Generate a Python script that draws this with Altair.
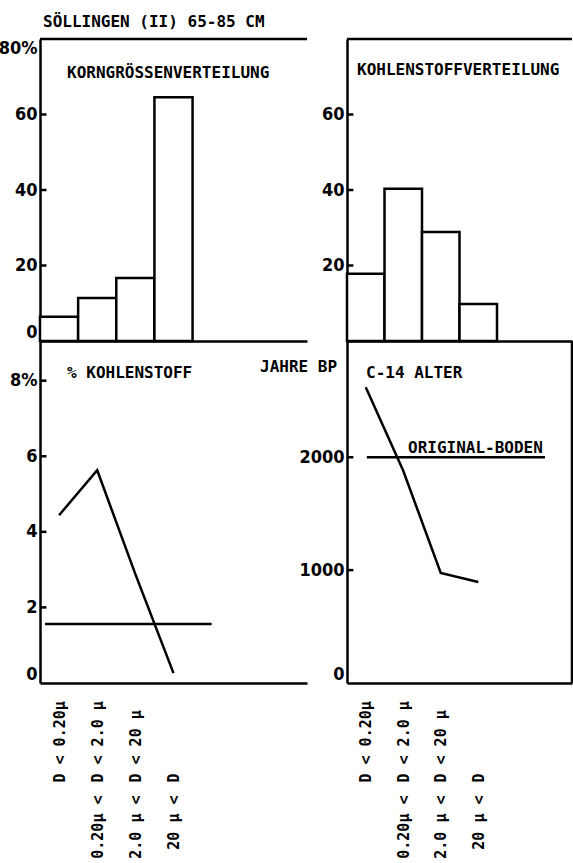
import altair as alt
import pandas as pd

# ---- data -------------------------------------------------------------
classes = ["D < 0.20µ", "0.20µ < D < 2.0 µ", "2.0 µ < D < 20 µ", "20 µ < D"]
grain_size_pct = [6.4, 11.4, 16.7, 64.6]           # Korngrössenverteilung
carbon_distribution_pct = [17.8, 40.3, 28.9, 9.8]   # Kohlenstoffverteilung
carbon_content_pct = [4.44, 5.63, 2.88, 0.26]       # % Kohlenstoff
c14_age_bp = [2620, 1880, 975, 895]                 # C-14 Alter
bulk_soil_carbon_pct = 1.56
bulk_soil_carbon_span = [0.13, 4.5]                 # in class slots
original_soil_age_bp = 2000
original_soil_span = [0.53, 5.28]                   # in class slots

pct_ticks = [0, 20, 40, 60, 80]
carbon_ticks = [0, 2, 4, 6, 8]
age_ticks = [0, 1000, 2000]

# ---- layout -----------------------------------------------------------
W, H = 573, 863
LEFT_X = [40, 307]
RIGHT_X = [347, 572]
TOP_Y = [341, 39]
BOTTOM_Y = [683, 341]
LEFT_SLOTS, RIGHT_SLOTS = 7, 6
PCT_DOMAIN = [0, 80]
CARBON_DOMAIN = [0, 9.05]
AGE_DOMAIN = [0, 3030]
TICK_LEN = 0.17        # inward tick length, in class slots

MONO = "DejaVu Sans Mono"
NUM_FONT = "Liberation Sans Narrow, DejaVu Sans Condensed, Liberation Sans, sans-serif"
LINE_W = 2.5

n = len(classes)
slots = pd.DataFrame({
    "cls": classes,
    "x0": list(range(n)),
    "x1": [i + 1 for i in range(n)],
    "xc": [i + 0.5 for i in range(n)],
    "base": [0] * n,
    "grain": grain_size_pct,
    "cshare": carbon_distribution_pct,
    "carbon": carbon_content_pct,
    "age": c14_age_bp,
})

# label halves: the part from "D" onwards reads upward from a common line,
# the part before "D" hangs below it
after_d = ["D" + c.split("D", 1)[1] for c in classes]
before_d = [c.split("D", 1)[0].strip() for c in classes]


def js_list(items):
    return "[" + ",".join("'" + s + "'" for s in items) + "]"


def xscale(side):
    return alt.Scale(domain=[0, LEFT_SLOTS if side == "L" else RIGHT_SLOTS],
                     range=LEFT_X if side == "L" else RIGHT_X,
                     nice=False, zero=False)


def yscale(domain, rng):
    return alt.Scale(domain=domain, range=rng, nice=False, zero=False)


def value_axis(x_px, values, expr=None):
    kw = dict(orient="left", offset=-x_px, values=values, ticks=False, tickSize=0,
              labelPadding=3, domain=True, domainColor="black", domainWidth=LINE_W,
              labelFont=NUM_FONT, labelFontSize=18, labelFontWeight="bold",
              labelColor="black", labelFlush=True, grid=False, title=None,
              format="d")
    if expr:
        kw["labelExpr"] = expr
    return alt.Axis(**kw)


def base_axis(y_px):
    return alt.Axis(orient="bottom", offset=y_px - H, labels=False, ticks=False,
                    tickSize=0, domain=True, domainColor="black",
                    domainWidth=LINE_W, grid=False, title=None)


def class_axis(texts, pad, align, domain):
    return alt.Axis(orient="bottom", offset=BOTTOM_Y[0] - H,
                    values=[i + 0.5 for i in range(n)],
                    labelExpr=js_list(texts) + "[floor(datum.value)]",
                    labelAngle=270, labelAlign=align, labelBaseline="middle",
                    labelPadding=pad, labelFont=MONO, labelFontSize=15,
                    labelFontWeight="bold", labelColor="black",
                    labelFlush=False, labelOverlap=False, labelBound=False,
                    ticks=False, tickSize=0, domain=domain, domainColor="black",
                    domainWidth=LINE_W, grid=False, title=None)


def inner_ticks(side, values, domain, rng):
    """Short tick marks drawn inside the plot, off the value axis."""
    df = pd.DataFrame({"v": values, "a": [0] * len(values), "b": [TICK_LEN] * len(values)})
    return alt.Chart(df).mark_rule(color="black", strokeWidth=LINE_W).encode(
        x=alt.X("a:Q", scale=xscale(side), axis=None),
        x2="b",
        y=alt.Y("v:Q", scale=yscale(domain, rng), axis=None),
    )


bar_mark = dict(fill="white", stroke="black", strokeWidth=LINE_W)

# ---- top left: Korngrössenverteilung ---------------------------------
tl_bars = alt.Chart(slots).mark_bar(**bar_mark).encode(
    x=alt.X("x0:Q", scale=xscale("L"), axis=base_axis(TOP_Y[0])),
    x2="x1",
    y=alt.Y("grain:Q", scale=yscale(PCT_DOMAIN, TOP_Y),
            axis=value_axis(LEFT_X[0], pct_ticks,
                            "datum.value == 80 ? '80%' : datum.label")),
    y2="base",
)
tl_frame = alt.Chart(pd.DataFrame({"a": [0], "b": [LEFT_SLOTS], "v": [PCT_DOMAIN[1]]})).mark_rule(
    color="black", strokeWidth=LINE_W).encode(
    x=alt.X("a:Q", scale=xscale("L"), axis=None),
    x2="b",
    y=alt.Y("v:Q", scale=yscale(PCT_DOMAIN, TOP_Y), axis=None),
)
tl_ticks = inner_ticks("L", pct_ticks[1:-1], PCT_DOMAIN, TOP_Y)

# ---- top right: Kohlenstoffverteilung --------------------------------
tr_bars = alt.Chart(slots).mark_bar(**bar_mark).encode(
    x=alt.X("x0:Q", scale=xscale("R"), axis=base_axis(TOP_Y[0])),
    x2="x1",
    y=alt.Y("cshare:Q", scale=yscale(PCT_DOMAIN, TOP_Y),
            axis=value_axis(RIGHT_X[0], pct_ticks[1:-1])),
    y2="base",
)
tr_frame = alt.Chart(pd.DataFrame({"a": [0], "b": [RIGHT_SLOTS], "v": [PCT_DOMAIN[1]]})).mark_rule(
    color="black", strokeWidth=LINE_W).encode(
    x=alt.X("a:Q", scale=xscale("R"), axis=None),
    x2="b",
    y=alt.Y("v:Q", scale=yscale(PCT_DOMAIN, TOP_Y), axis=None),
)
tr_ticks = inner_ticks("R", pct_ticks[1:-1], PCT_DOMAIN, TOP_Y)

# ---- bottom left: % Kohlenstoff --------------------------------------
bl_line = alt.Chart(slots).mark_line(color="black", strokeWidth=LINE_W).encode(
    x=alt.X("xc:Q", scale=xscale("L"), axis=class_axis(after_d, 99, "left", True)),
    y=alt.Y("carbon:Q", scale=yscale(CARBON_DOMAIN, BOTTOM_Y),
            axis=value_axis(LEFT_X[0], carbon_ticks,
                            "datum.value == 8 ? '8%' : datum.label")),
    order="x0:Q",
)
bl_ref = alt.Chart(pd.DataFrame({"a": [bulk_soil_carbon_span[0]], "b": [bulk_soil_carbon_span[1]],
                                 "v": [bulk_soil_carbon_pct]})).mark_rule(
    color="black", strokeWidth=LINE_W).encode(
    x=alt.X("a:Q", scale=xscale("L"), axis=class_axis(before_d, 112, "right", False)),
    x2="b",
    y=alt.Y("v:Q", scale=yscale(CARBON_DOMAIN, BOTTOM_Y), axis=None),
)
bl_ticks = inner_ticks("L", carbon_ticks[1:], CARBON_DOMAIN, BOTTOM_Y)

# ---- bottom right: C-14 Alter ----------------------------------------
br_line = alt.Chart(slots).mark_line(color="black", strokeWidth=LINE_W).encode(
    x=alt.X("xc:Q", scale=xscale("R"), axis=class_axis(after_d, 99, "left", True)),
    y=alt.Y("age:Q", scale=yscale(AGE_DOMAIN, BOTTOM_Y),
            axis=value_axis(RIGHT_X[0], age_ticks)),
    order="x0:Q",
)
br_ref = alt.Chart(pd.DataFrame({"a": [original_soil_span[0]], "b": [original_soil_span[1]],
                                 "v": [original_soil_age_bp]})).mark_rule(
    color="black", strokeWidth=LINE_W).encode(
    x=alt.X("a:Q", scale=xscale("R"), axis=class_axis(before_d, 112, "right", False)),
    x2="b",
    y=alt.Y("v:Q", scale=yscale(AGE_DOMAIN, BOTTOM_Y), axis=None),
)
br_edge = alt.Chart(pd.DataFrame({"a": [RIGHT_SLOTS], "lo": [AGE_DOMAIN[0]], "hi": [AGE_DOMAIN[1]]})).mark_rule(
    color="black", strokeWidth=LINE_W).encode(
    x=alt.X("a:Q", scale=xscale("R"), axis=None),
    y=alt.Y("lo:Q", scale=yscale(AGE_DOMAIN, BOTTOM_Y), axis=None),
    y2="hi",
)
br_ticks = inner_ticks("R", age_ticks[1:], AGE_DOMAIN, BOTTOM_Y)

# ---- captions --------------------------------------------------------
captions = [
    ("SÖLLINGEN (II) 65-85 CM", 43, 27),
    ("KORNGRÖSSENVERTEILUNG", 67, 78),
    ("KOHLENSTOFFVERTEILUNG", 357, 75),
    ("% KOHLENSTOFF", 67, 378),
    ("JAHRE BP", 260, 372),
    ("C-14 ALTER", 366, 378),
    ("ORIGINAL-BODEN", 408, 453),
]
caption_layers = [
    alt.Chart(pd.DataFrame({"t": [t]})).mark_text(
        align="left", baseline="alphabetic", font=MONO, fontSize=16,
        fontWeight="bold", color="black").encode(
        x=alt.value(px), y=alt.value(py), text="t:N")
    for t, px, py in captions
]

chart = alt.layer(
    tl_bars, tl_frame, tl_ticks, tr_bars, tr_frame, tr_ticks,
    bl_line, bl_ref, bl_ticks, br_line, br_ref, br_edge, br_ticks,
    *caption_layers,
).resolve_scale(
    x="independent", y="independent"
).resolve_axis(
    x="independent", y="independent"
).properties(
    width=W, height=H, padding=0, background="white",
    autosize=alt.AutoSizeParams(type="none"),
).configure_view(stroke=None)

chart.save("out.html", embed_options={"renderer": "svg", "actions": False})
